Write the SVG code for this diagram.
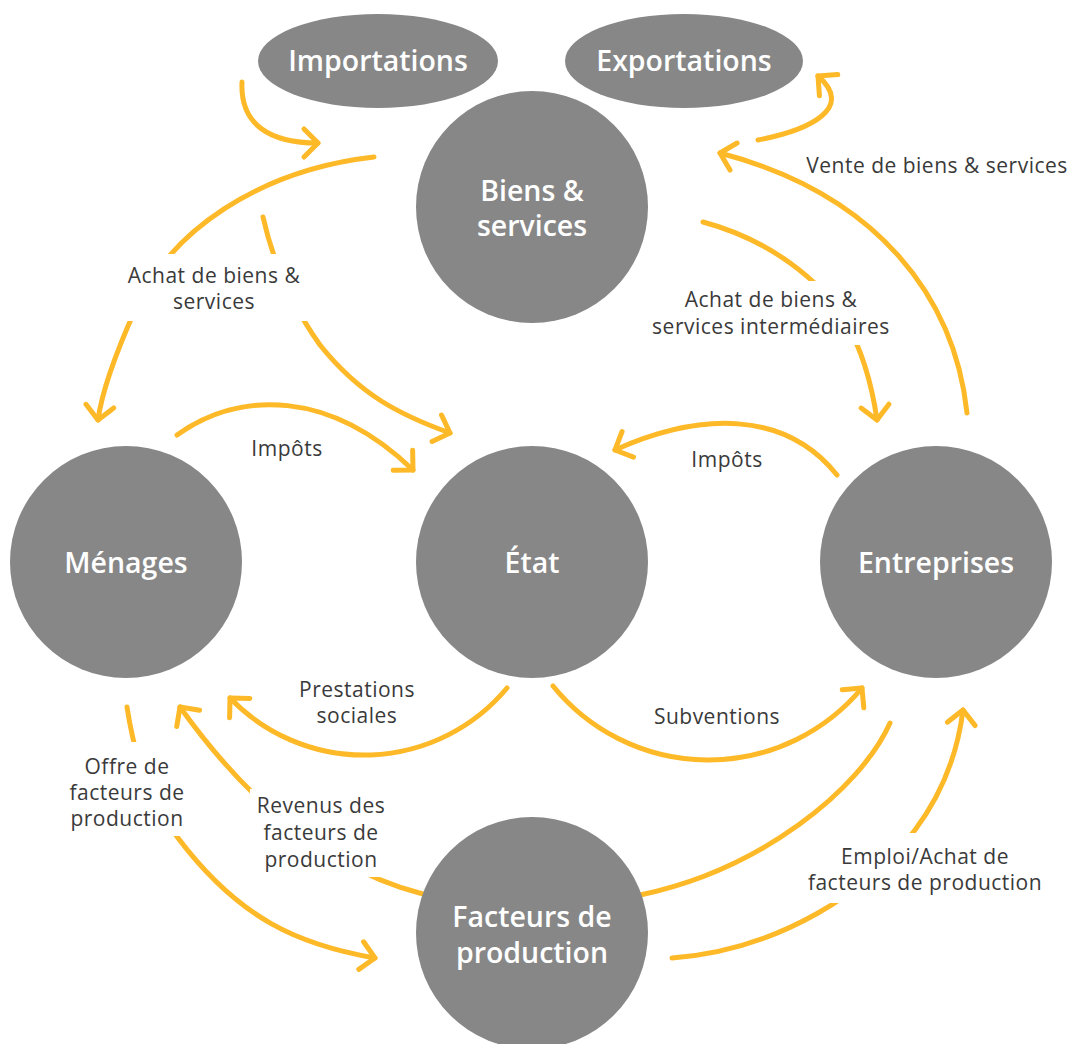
<svg xmlns="http://www.w3.org/2000/svg" width="1072" height="1044" viewBox="0 0 1072 1044">
<style>
.node{fill:#878787}
.nt{font-family:"Open Sans","Liberation Sans",sans-serif;font-size:28.5px;font-weight:600;fill:#ffffff;text-anchor:middle}
.lbl{font-family:"Open Sans","Liberation Sans",sans-serif;font-size:21px;letter-spacing:0.5px;font-weight:400;fill:#3a3a3a;text-anchor:middle}
.bg{fill:#ffffff}
.c{fill:none;stroke:#FDB927;stroke-width:5;stroke-linecap:round;stroke-linejoin:round}
.ah{marker-end:url(#ah)}
</style>
<defs>
<marker id="ah" markerUnits="userSpaceOnUse" markerWidth="40" markerHeight="40" refX="20" refY="20" orient="auto" overflow="visible">
<path d="M6,6 L20,20 L6,34" fill="none" stroke="#FDB927" stroke-width="5" stroke-linecap="round" stroke-linejoin="round"/>
</marker>
</defs>
<rect width="1072" height="1044" fill="#ffffff"/>
<g id="connectors">
<path id="e-import" class="c ah" d="M242,82 C240,125 270,143 318,143"/>
<path id="e-export" class="c ah" d="M758,140 C810,130 855,108 818,76"/>
<path id="e-achat-menages" class="c ah" d="M374,157 C260,170 170,230 135,310 C115,355 102,390 98,420"/>
<path id="e-achat-etat" class="c ah" d="M263,217 C275,270 295,310 320,345 C360,395 400,415 450,433"/>
<path id="e-achat-inter" class="c ah" d="M703,222 C770,240 820,280 845,320 C862,350 872,385 877,420"/>
<path id="e-vente" class="c ah" d="M967,413 C955,300 880,195 720,153"/>
<path id="e-impots-menages" class="c ah" d="M177,435 C240,390 330,390 413,470"/>
<path id="e-impots-entr" class="c ah" d="M837,475 C785,410 700,412 615,450"/>
<path id="e-prestations" class="c ah" d="M507,688 A186,186 0 0 1 230,698"/>
<path id="e-subventions" class="c ah" d="M553,686 A200,200 0 0 0 862,688"/>
<path id="e-revenus" class="c ah" d="M890,723 C860,790 760,870 640,895 C560,912 490,910 423,894 C330,870 250,805 180,707"/>
<path id="e-offre" class="c ah" d="M127,707 C135,760 150,800 178,838 C240,920 300,945 375,958"/>
<path id="e-emploi" class="c ah" d="M672,958 C780,950 870,890 915,830 C945,790 958,750 963,710"/>
</g>
<g id="labels">
<rect class="bg" x="118" y="254" width="194" height="67"/>
<text class="lbl" x="214" y="283">Achat de biens &amp;</text>
<text class="lbl" x="214" y="309">services</text>
<rect class="bg" x="645" y="281" width="252" height="64"/>
<text class="lbl" x="771" y="307">Achat de biens &amp;</text>
<text class="lbl" x="771" y="334">services intermédiaires</text>
<text class="lbl" x="937" y="173">Vente de biens &amp; services</text>
<text class="lbl" x="287" y="456">Impôts</text>
<text class="lbl" x="727" y="467">Impôts</text>
<text class="lbl" x="357" y="697">Prestations</text>
<text class="lbl" x="357" y="723">sociales</text>
<text class="lbl" x="717" y="724">Subventions</text>
<rect class="bg" x="64" y="742" width="126" height="94"/>
<text class="lbl" x="127" y="774">Offre de</text>
<text class="lbl" x="127" y="800">facteurs de</text>
<text class="lbl" x="127" y="826">production</text>
<rect class="bg" x="250" y="789" width="142" height="88"/>
<text class="lbl" x="321" y="813">Revenus des</text>
<text class="lbl" x="321" y="840">facteurs de</text>
<text class="lbl" x="321" y="867">production</text>
<rect class="bg" x="806" y="833" width="244" height="70"/>
<text class="lbl" x="925" y="864">Emploi/Achat de</text>
<text class="lbl" x="925" y="890">facteurs de production</text>
</g>
<g id="n-importations">
<ellipse class="node" cx="378" cy="61" rx="120" ry="47"/>
<text class="nt" x="378" y="71">Importations</text>
</g>
<g id="n-exportations">
<ellipse class="node" cx="684" cy="61" rx="119" ry="47"/>
<text class="nt" x="684" y="71">Exportations</text>
</g>
<g id="n-biens">
<circle class="node" cx="532" cy="207" r="116"/>
<text class="nt" x="532" y="201">Biens &amp;</text>
<text class="nt" x="532" y="236">services</text>
</g>
<g id="n-menages">
<circle class="node" cx="126" cy="562" r="116"/>
<text class="nt" x="126" y="573">Ménages</text>
</g>
<g id="n-etat">
<circle class="node" cx="532" cy="562" r="116"/>
<text class="nt" x="532" y="573">État</text>
</g>
<g id="n-entreprises">
<circle class="node" cx="936" cy="562" r="116"/>
<text class="nt" x="936" y="573">Entreprises</text>
</g>
<g id="n-facteurs">
<circle class="node" cx="532" cy="933" r="116"/>
<text class="nt" x="532" y="927">Facteurs de</text>
<text class="nt" x="532" y="963">production</text>
</g>
</svg>
